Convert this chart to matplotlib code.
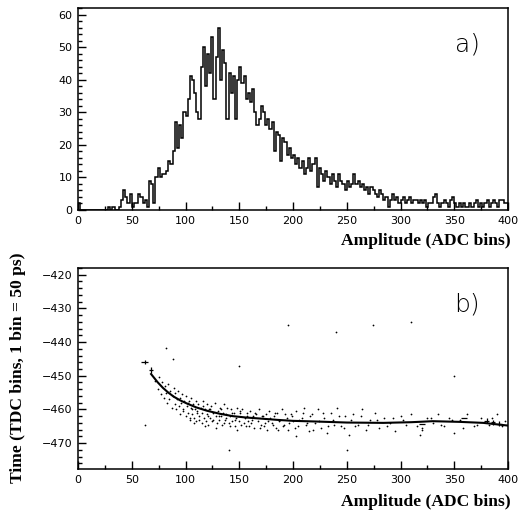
import numpy as np
import matplotlib
matplotlib.use("Agg")
import matplotlib.pyplot as plt
from matplotlib.ticker import MultipleLocator

# ---------------- data: panel a (histogram, 2 ADC-bin wide) ----------------
bin_width = 2
counts = [
    2, 0, 0, 0, 0, 0, 0, 0, 0, 0,
    0, 0, 0, 0, 1, 0, 1, 0, 0, 1,
    3, 6, 4, 2, 5, 1, 2, 2, 5, 4,
    2, 3, 1, 9, 8, 2, 10, 13, 10, 11,
    11, 12, 15, 14, 18, 27, 19, 26, 22, 30,
    29, 34, 41, 40, 36, 30, 28, 44, 50, 38,
    48, 42, 53, 34, 47, 56, 40, 49, 45, 28,
    42, 36, 41, 28, 40, 44, 39, 41, 34, 36,
    33, 37, 30, 26, 28, 32, 30, 26, 28, 25,
    27, 18, 24, 23, 15, 22, 21, 17, 19, 16,
    17, 14, 16, 13, 15, 11, 13, 16, 12, 14,
    16, 7, 13, 11, 9, 12, 10, 8, 11, 9,
    7, 11, 9, 8, 6, 9, 7, 8, 11, 8,
    9, 7, 8, 6, 7, 5, 7, 6, 5, 4,
    6, 5, 3, 4, 1, 3, 5, 3, 4, 2,
    3, 4, 2, 3, 4, 2, 3, 3, 2, 3,
    2, 3, 1, 2, 2, 4, 5, 2, 1, 2,
    3, 2, 1, 3, 4, 2, 1, 2, 1, 2,
    1, 1, 2, 1, 2, 3, 1, 2, 1, 2,
    3, 1, 2, 3, 2, 1, 3, 3, 2, 2,
]

# ---------------- data: panel b (time walk) ----------------
fit_amp = [68, 74, 79, 84, 89, 95, 101, 110, 120, 132, 144, 156, 169, 185, 200,
           222, 250, 284, 310, 330, 355, 377, 400]
fit_time = [-449.5, -451.9, -453.6, -455.0, -456.2, -457.3, -458.2, -459.4, -460.4,
            -461.3, -462.0, -462.4, -462.7, -463.1, -463.4, -463.6, -463.9, -464.0,
            -463.8, -463.5, -463.7, -464.0, -464.8]

scatter_amp = [
    72, 74, 75, 77, 78, 80, 81, 82, 83, 84, 85, 86, 87, 88, 89, 90, 90, 91, 92, 93,
    94, 95, 95, 96, 97, 98, 99, 100, 100, 101, 102, 103, 104, 105, 105, 106, 107, 108,
    109, 110, 110, 111, 112, 113, 114, 115, 115, 116, 117, 118, 119, 120, 120, 121,
    122, 123, 124, 125, 126, 127, 128, 129, 130, 131, 132, 133, 134, 135, 136, 137,
    138, 139, 140, 141, 142, 143, 145, 146, 147, 148, 150, 151, 152, 153, 155, 156,
    157, 158, 160, 161, 163, 164, 165, 167, 168, 170, 172, 173, 175, 177, 178, 180,
    182, 184, 185, 187, 190, 192, 194, 195, 198, 200, 203, 205, 208, 210, 213, 215,
    218, 220, 223, 226, 229, 232, 235, 238, 241, 245, 248, 252, 256, 260, 264, 268,
    272, 276, 280, 285, 290, 295, 300, 305, 310, 318, 320, 325, 330, 335, 340, 345,
    350, 355, 362, 368, 375, 382, 390, 397,
    62, 82, 88, 140, 150, 195, 240, 250, 274, 310, 350, 203, 320,
    98, 102, 104, 106, 108, 111, 113, 116, 118, 121, 123, 126, 128, 131, 133,
    136, 138, 141, 143, 146, 148, 151, 154, 157, 159, 162, 166, 169, 171, 174,
    176, 179, 181, 183, 186, 188, 191, 193, 196, 199, 202, 206, 209, 212, 216,
    219, 224, 228, 233, 237, 243, 247, 254, 258, 263, 270, 278, 287, 293, 302,
    315, 328, 338, 348, 358, 371, 385, 394,
]
scatter_time = [
    -451.5, -454, -450.5, -455.5, -452, -456.5, -453, -455, -458, -452.5, -457, -454.5,
    -459.5, -456, -453.5, -458.5, -455, -460, -457, -454.5, -459, -456.5, -461.5, -458,
    -455.5, -460.5, -457.5, -462, -456, -459, -461, -457.5, -463, -459.5, -456.5,
    -461.5, -458.5, -462.5, -460, -457.5, -463.5, -460.5, -458.5, -462, -459.5, -464,
    -461, -457.5, -462.5, -460, -463.5, -458.5, -461.5, -464.5, -460, -462.5, -459,
    -463.5, -461, -458, -462, -464, -460.5, -463, -459.5, -462, -464.5, -461, -458.5,
    -463, -461.5, -459.5, -464, -462, -460, -463.5, -461, -465, -462.5, -459.5,
    -463.5, -461, -464.5, -460, -462.5, -465, -461, -463.5, -460.5, -464, -462,
    -465.5, -461, -463.5, -460, -464.5, -462, -465, -461.5, -463.5, -460.5, -464,
    -462, -465.5, -461, -463.5, -460, -464.5, -462.5, -466, -461.5, -463.5, -460.5,
    -465, -462.5, -459.5, -464, -466.5, -461.5, -464, -460, -465.5, -462.5, -467,
    -461, -464.5, -459.5, -465, -462, -467.5, -461.5, -464.5, -460, -466, -463, -461,
    -465.5, -462.5, -464, -466.5, -462, -464.5, -461.5, -467.5, -465.5, -462.5, -464,
    -461.5, -465, -462.5, -467, -463, -461.5, -465, -462.5, -464.5, -461.5, -463.5,
    -464.5, -441.7, -445, -472, -447, -435, -437, -472, -435, -434, -450, -468, -466,
    -460, -458, -462.5, -460, -464, -461, -463, -459, -465, -462, -460, -463, -465.5,
    -462, -460, -464, -462.5, -465, -461, -463, -466, -460.5, -464, -462, -465, -463,
    -461.5, -465.5, -462, -464, -466, -462.5, -464.5, -461, -466, -463, -465, -461.5,
    -464, -462, -465.5, -463, -461, -464.5, -462, -466, -463.5, -461, -465, -463,
    -462, -465.5, -463, -465, -462, -464.5, -463, -465, -462.5, -463, -465, -462.5,
    -464.5, -463, -465.5, -464.5, -462.5, -465,
]

prof_amp = [62, 68, 380, 386, 392]
prof_time = [-446.0, -448.3, -463.3, -463.8, -464.2]
prof_xerr = [3, 2, 2, 2, 2]
prof_yerr = [0.6, 0.8, 0.8, 0.8, 0.8]

dash_amp = [320, 359]
dash_time = [-464.3, -462.5]

# ---------------- figure ----------------
fig = plt.figure(figsize=(5.18, 5.18), dpi=100)
W = H = 518.0
def ax_rect(l, t, r, b):
    return [l / W, 1 - b / H, (r - l) / W, (b - t) / H]

axa = fig.add_axes(ax_rect(78, 8, 508, 210))
axb = fig.add_axes(ax_rect(78, 268, 508, 469))

edges = np.arange(0, bin_width * (len(counts) + 1), bin_width)
axa.stairs(counts, edges, color="black", linewidth=1.1)
axa.set_xlim(0, 400)
axa.set_ylim(0, 62)
axa.yaxis.set_major_locator(MultipleLocator(10))
axa.yaxis.set_minor_locator(MultipleLocator(2))

axb.scatter(scatter_amp, scatter_time, s=1.6, color="black", linewidths=0)
axb.plot(fit_amp, fit_time, color="black", linewidth=1.5)
axb.errorbar(prof_amp, prof_time, xerr=prof_xerr, yerr=prof_yerr, fmt="none",
             ecolor="black", elinewidth=0.9, capsize=0)
axb.errorbar(dash_amp, dash_time, xerr=3, fmt="none", ecolor="black",
             elinewidth=0.9, capsize=0)
axb.set_xlim(0, 400)
axb.set_ylim(-477.7, -418)
axb.yaxis.set_major_locator(MultipleLocator(10))
axb.yaxis.set_minor_locator(MultipleLocator(2))

for ax in (axa, axb):
    ax.xaxis.set_major_locator(MultipleLocator(50))
    ax.xaxis.set_minor_locator(MultipleLocator(25))
    ax.tick_params(which="both", direction="in", top=False, right=False,
                   labelsize=8, width=1.0, pad=4)
    ax.tick_params(which="major", length=6)
    ax.tick_params(which="minor", length=3)
    for sp in ax.spines.values():
        sp.set_linewidth(1.1)
    for lab in ax.get_xticklabels() + ax.get_yticklabels():
        lab.set_family("DejaVu Sans")

axa.text(0.905, 0.82, "a)", transform=axa.transAxes, fontsize=18,
         fontweight="light", ha="center", va="center", family="DejaVu Sans")
axb.text(0.905, 0.82, "b)", transform=axb.transAxes, fontsize=18,
         fontweight="light", ha="center", va="center", family="DejaVu Sans")

lab_font = dict(family="Liberation Serif", fontweight="bold", fontsize=12.6)
fig.text(511 / W, 1 - 241 / H, "Amplitude (ADC bins)", ha="right", va="center", **lab_font)
fig.text(511 / W, 1 - 502 / H, "Amplitude (ADC bins)", ha="right", va="center", **lab_font)
fig.text(18 / W, 1 - 368 / H, "Time (TDC bins, 1 bin = 50 ps)", ha="center",
         va="center", rotation=90, **lab_font)

fig.savefig("out.png", dpi=100)
